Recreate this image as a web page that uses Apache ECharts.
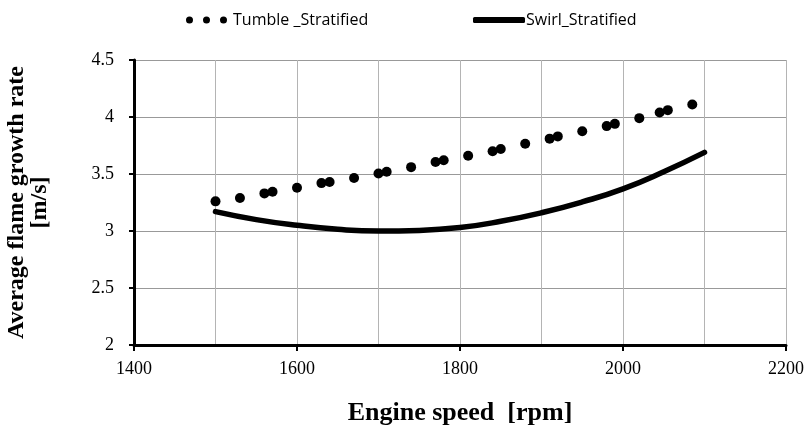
<!DOCTYPE html>
<html>
<head>
<meta charset="utf-8">
<script src="https://cdn.jsdelivr.net/npm/echarts@6/dist/echarts.min.js"></script>
<style>
  html, body { margin: 0; padding: 0; background: #fff; }
  #chart { width: 812px; height: 430px; }
</style>
</head>
<body>
<div id="chart"></div>
<script>
// Tumble_Stratified points (rpm, m/s)
var tumbleRpm = [1500, 1530, 1560, 1570, 1600, 1630, 1640, 1670, 1700, 1710, 1740, 1770, 1780,
  1810, 1840, 1850, 1880, 1910, 1920, 1950, 1980, 1990, 2020, 2045, 2055, 2085];
var tumbleRate = [3.26, 3.29, 3.33, 3.345, 3.38, 3.42, 3.43, 3.465, 3.505, 3.52, 3.56, 3.605, 3.62,
  3.66, 3.70, 3.72, 3.765, 3.81, 3.83, 3.875, 3.92, 3.94, 3.99, 4.04, 4.06, 4.11];

// Swirl_Stratified curve
var swirlRpm = [1500, 1550, 1600, 1650, 1700, 1750, 1800, 1850, 1900, 1950, 2000, 2050, 2100];
var swirlRate = [3.17, 3.10, 3.05, 3.015, 3.0, 3.005, 3.03, 3.085, 3.16, 3.255, 3.37, 3.52, 3.69];

var xTicks = [1400, 1600, 1800, 2000, 2200];
var yTicks = [2, 2.5, 3, 3.5, 4, 4.5];

var serif = '"Liberation Serif", "DejaVu Serif", serif';
var sans = '"Open Sans", "Liberation Sans", sans-serif';

var chartDom = document.getElementById('chart');
var myChart = echarts.init(chartDom);

var dotsIcon = 'path://M0,3.5a3.5,3.5 0 1,0 7,0a3.5,3.5 0 1,0 -7,0M17,3.5a3.5,3.5 0 1,0 7,0a3.5,3.5 0 1,0 -7,0M34,3.5a3.5,3.5 0 1,0 7,0a3.5,3.5 0 1,0 -7,0';

var option = {
  animation: false,
  legend: [{
    left: 181,
    top: 7,
    itemWidth: 41,
    itemHeight: 7,
    itemGap: 6,
    data: [{ name: 'Tumble _Stratified', icon: dotsIcon, itemStyle: { color: '#000' } }],
    textStyle: { fontFamily: sans, fontSize: 16, color: '#000', padding: [0, 0, 0, 1] }
  }, {
    left: 468,
    top: 7,
    itemWidth: 52,
    itemHeight: 6,
    data: [{ name: 'Swirl_Stratified', icon: 'roundRect', itemStyle: { color: '#000' } }],
    textStyle: { fontFamily: sans, fontSize: 16, color: '#000', padding: [0, 0, 0, -4] }
  }],
  grid: {
    left: 134,
    right: 26,
    top: 60,
    bottom: 85,
    outerBoundsMode: 'none'
  },
  xAxis: [{
    // grid lines every 100 rpm, labels every 200
    type: 'value',
    min: xTicks[0],
    max: xTicks[xTicks.length - 1],
    interval: 100,
    name: 'Engine speed  [rpm]',
    nameLocation: 'middle',
    nameGap: 55,
    nameTextStyle: { fontFamily: serif, fontSize: 26, fontWeight: 'bold', color: '#000' },
    axisLine: { show: true, onZero: false, lineStyle: { color: '#000', width: 3 } },
    axisTick: { show: false },
    axisLabel: {
      fontFamily: serif, fontSize: 18, color: '#000', margin: 15,
      formatter: function (v) { return xTicks.indexOf(v) >= 0 ? String(v) : ''; }
    },
    splitLine: { show: true, lineStyle: { color: '#b4b4b4', width: 1 } }
  }, {
    // only for the major tick marks
    type: 'value',
    position: 'bottom',
    min: xTicks[0],
    max: xTicks[xTicks.length - 1],
    interval: 200,
    axisLine: { show: false, onZero: false },
    axisTick: { show: true, inside: false, length: 6, lineStyle: { color: '#000', width: 2 } },
    axisLabel: { show: false },
    splitLine: { show: false }
  }],
  yAxis: {
    type: 'value',
    min: yTicks[0],
    max: yTicks[yTicks.length - 1],
    interval: 0.5,
    name: 'Average flame growth rate\n[m/s]',
    nameLocation: 'middle',
    nameGap: 83,
    nameTextStyle: { fontFamily: serif, fontSize: 24, fontWeight: 'bold', color: '#000', lineHeight: 23 },
    axisLine: { show: true, lineStyle: { color: '#000', width: 3 } },
    axisTick: { show: true, inside: false, length: 5, lineStyle: { color: '#000', width: 2 } },
    axisLabel: { fontFamily: serif, fontSize: 18, color: '#000', margin: 20 },
    splitLine: { show: true, lineStyle: { color: '#999', width: 1 } }
  },
  series: [{
    name: 'Tumble _Stratified',
    type: 'scatter',
    symbol: 'circle',
    symbolSize: 10,
    itemStyle: { color: '#000', opacity: 1 },
    data: tumbleRpm.map(function (x, i) { return [x, tumbleRate[i]]; }),
    z: 3
  }, {
    name: 'Swirl_Stratified',
    type: 'line',
    smooth: true,
    showSymbol: false,
    lineStyle: { color: '#000', width: 5.5, cap: 'round' },
    itemStyle: { color: '#000' },
    data: swirlRpm.map(function (x, i) { return [x, swirlRate[i]]; }),
    z: 2
  }]
};

option && myChart.setOption(option);
</script>
</body>
</html>
